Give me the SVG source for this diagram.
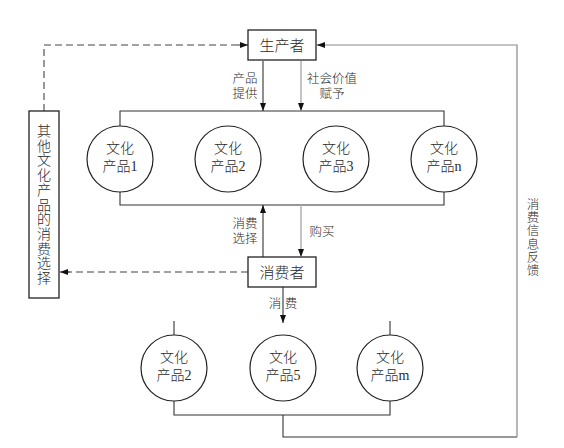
<svg xmlns="http://www.w3.org/2000/svg" width="564" height="448" viewBox="0 0 564 448">
<defs>
<style>
text{font-family:"Liberation Serif","Noto Sans CJK SC",serif;fill:#2a2a2a;font-weight:300;}
.box{fill:#fff;stroke:#222;stroke-width:1.3;}
.c{fill:#fff;stroke:#222;stroke-width:1.2;}
.ln{fill:none;stroke:#333;stroke-width:1.1;}
.gl{fill:none;stroke:#b5b5b5;stroke-width:1.6;}
.ds{fill:none;stroke:#444;stroke-width:1.1;stroke-dasharray:7,4;}
.ct{font-size:14px;text-anchor:middle;}
.bt{font-size:15px;text-anchor:middle;}
.lb{font-size:12.5px;text-anchor:middle;}
.vt{font-size:14px;text-anchor:middle;}
</style>
<marker id="ah" markerUnits="userSpaceOnUse" markerWidth="10" markerHeight="10" refX="8" refY="3" orient="auto">
<path d="M0,0 L8,3 L0,6 Z" fill="#111"/>
</marker>
</defs>
<g id="connectors">
<line class="ln" x1="263" y1="61" x2="263" y2="111" marker-end="url(#ah)"/>
<line class="gl" x1="301" y1="61" x2="301" y2="110" />
<line x1="301" y1="100" x2="301" y2="111" stroke="none" marker-end="url(#ah)"/>
<path class="ln" d="M120,126 V111 H444 V126"/>
<path class="ln" d="M120,192 V205 H444 V192"/>
<line class="ln" x1="263" y1="257" x2="263" y2="205" marker-end="url(#ah)"/>
<line class="gl" x1="301" y1="205" x2="301" y2="256"/>
<line x1="301" y1="245" x2="301" y2="257" stroke="none" marker-end="url(#ah)"/>
<line class="ln" x1="283" y1="287" x2="283" y2="323" marker-end="url(#ah)"/>
<path class="ds" d="M44,111 V45 H240"/>
<line x1="238" y1="45" x2="248" y2="45" stroke="#444" stroke-width="1.1" marker-end="url(#ah)"/>
<line class="ds" x1="248" y1="272" x2="68" y2="272"/>
<line x1="70" y1="272" x2="60" y2="272" stroke="#444" stroke-width="1.1" marker-end="url(#ah)"/>
<line class="ln" x1="174" y1="321" x2="174" y2="335"/>
<line class="ln" x1="390" y1="321" x2="390" y2="335"/>
<path class="ln" d="M174,401 V415 H390 V401"/>
<path class="ln" d="M283,415 V437 H517"/>
<path fill="none" stroke="#888" stroke-width="1.2" d="M517,437 V45 H318"/>
<line x1="325" y1="45" x2="317" y2="45" stroke="#555" stroke-width="1.1" marker-end="url(#ah)"/>
</g>
<g id="producer">
<rect class="box" x="248" y="30" width="68" height="30"/>
<text class="bt" x="282" y="51">生产者</text>
</g>
<g id="consumer">
<rect class="box" x="248" y="257" width="68" height="30"/>
<text class="bt" x="282" y="278">消费者</text>
</g>
<g id="other">
<rect class="box" x="29" y="111" width="30" height="187"/>
<text class="vt"><tspan x="44" y="136">其</tspan><tspan x="44" y="150.7">他</tspan><tspan x="44" y="165.4">文</tspan><tspan x="44" y="180.1">化</tspan><tspan x="44" y="194.8">产</tspan><tspan x="44" y="209.5">品</tspan><tspan x="44" y="224.2">的</tspan><tspan x="44" y="238.9">消</tspan><tspan x="44" y="253.6">费</tspan><tspan x="44" y="268.3">选</tspan><tspan x="44" y="283">择</tspan></text>
</g>
<g id="p1"><circle class="c" cx="120" cy="159" r="33"/><text class="ct" x="120" y="153">文化</text><text class="ct" x="120" y="171">产品1</text></g>
<g id="p2"><circle class="c" cx="228" cy="159" r="33"/><text class="ct" x="228" y="153">文化</text><text class="ct" x="228" y="171">产品2</text></g>
<g id="p3"><circle class="c" cx="336" cy="159" r="33"/><text class="ct" x="336" y="153">文化</text><text class="ct" x="336" y="171">产品3</text></g>
<g id="pn"><circle class="c" cx="444" cy="159" r="33"/><text class="ct" x="444" y="153">文化</text><text class="ct" x="444" y="171">产品n</text></g>
<g id="q2"><circle class="c" cx="174" cy="368" r="33"/><text class="ct" x="174" y="362">文化</text><text class="ct" x="174" y="380">产品2</text></g>
<g id="q5"><circle class="c" cx="283" cy="368" r="33"/><text class="ct" x="283" y="362">文化</text><text class="ct" x="283" y="380">产品5</text></g>
<g id="qm"><circle class="c" cx="390" cy="368" r="33"/><text class="ct" x="390" y="362">文化</text><text class="ct" x="390" y="380">产品m</text></g>
<g id="labels">
<text class="lb"><tspan x="245" y="83">产品</tspan><tspan x="245" y="98">提供</tspan></text>
<text class="lb"><tspan x="332" y="83">社会价值</tspan><tspan x="332" y="98">赋予</tspan></text>
<text class="lb"><tspan x="245" y="228">消费</tspan><tspan x="245" y="243">选择</tspan></text>
<text class="lb" x="322" y="236">购买</text>
<text class="lb"><tspan x="275" y="308">消</tspan><tspan x="291" y="308">费</tspan></text>
<text class="lb"><tspan x="533" y="209">消</tspan><tspan x="533" y="222.2">费</tspan><tspan x="533" y="235.4">信</tspan><tspan x="533" y="248.6">息</tspan><tspan x="533" y="261.8">反</tspan><tspan x="533" y="275">馈</tspan></text>
</g>
</svg>
